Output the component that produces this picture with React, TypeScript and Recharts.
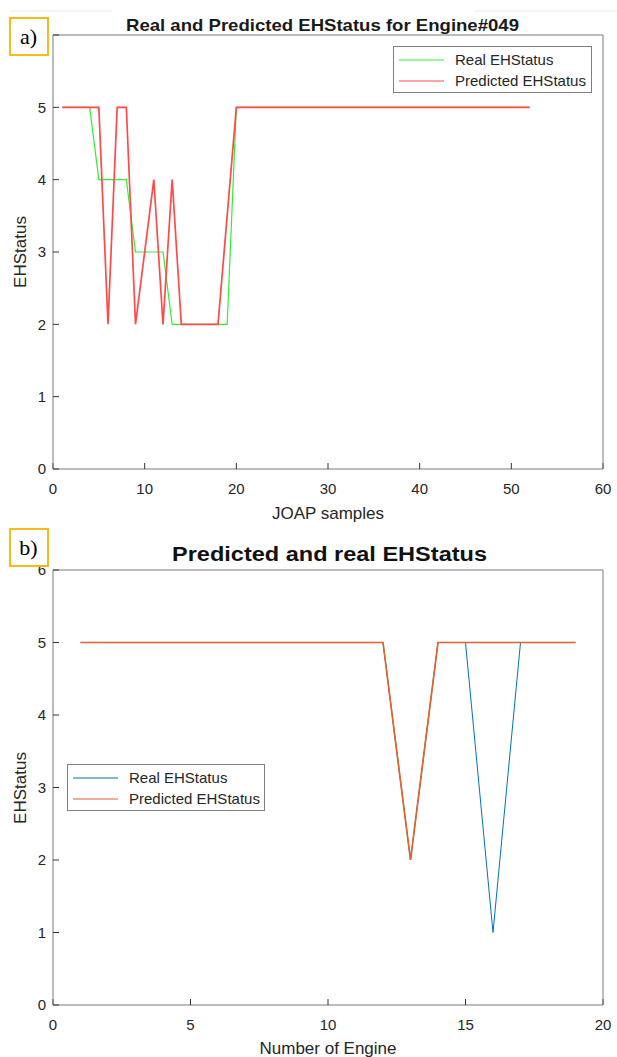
import React from 'react';
import { LineChart, Line, XAxis, YAxis, Legend } from 'recharts';

// ---- Chart a) data ----
const samplesA = [1, 2, 3, 4, 5, 6, 7, 8, 9, 10, 11, 12, 13, 14, 15, 16, 17, 18, 19, 20, 21, 22, 23, 24, 25, 26, 27, 28, 29, 30, 31, 32, 33, 34, 35, 36, 37, 38, 39, 40, 41, 42, 43, 44, 45, 46, 47, 48, 49, 50, 51, 52];
const realA = [5, 5, 5, 5, 4, 4, 4, 4, 3, 3, 3, 3, 2, 2, 2, 2, 2, 2, 2, 5, 5, 5, 5, 5, 5, 5, 5, 5, 5, 5, 5, 5, 5, 5, 5, 5, 5, 5, 5, 5, 5, 5, 5, 5, 5, 5, 5, 5, 5, 5, 5, 5];
const predA = [5, 5, 5, 5, 5, 2, 5, 5, 2, 3, 4, 2, 4, 2, 2, 2, 2, 2, 3.5, 5, 5, 5, 5, 5, 5, 5, 5, 5, 5, 5, 5, 5, 5, 5, 5, 5, 5, 5, 5, 5, 5, 5, 5, 5, 5, 5, 5, 5, 5, 5, 5, 5];
const xTicksA = [0, 10, 20, 30, 40, 50, 60];

// ---- Chart b) data ----
const enginesB = [1, 2, 3, 4, 5, 6, 7, 8, 9, 10, 11, 12, 13, 14, 15, 16, 17, 18, 19];
const realB = [5, 5, 5, 5, 5, 5, 5, 5, 5, 5, 5, 5, 2, 5, 5, 1, 5, 5, 5];
const predB = [5, 5, 5, 5, 5, 5, 5, 5, 5, 5, 5, 5, 2, 5, 5, 5, 5, 5, 5];
const xTicksB = [0, 5, 10, 15, 20];

const yTicks = [0, 1, 2, 3, 4, 5, 6];
const legendOrder = ['Real EHStatus', 'Predicted EHStatus'];

const dataA = samplesA.map((s, i) => ({ x: s, real: realA[i], pred: predA[i] }));
const dataB = enginesB.map((s, i) => ({ x: s, real: realB[i], pred: predB[i] }));

const FONT = '"Liberation Sans", Arial, Helvetica, sans-serif';
const AXIS_COLOR = '#7a7a7a';
const TICK_COLOR = '#333333';
const TEXT_COLOR = '#262626';

const tickStyle = { fill: TEXT_COLOR, fontSize: 15, fontFamily: FONT };

const LegendBox = (props: any) => {
  const payload = [...(props.payload || [])].sort(
    (a: any, b: any) => legendOrder.indexOf(a.value) - legendOrder.indexOf(b.value)
  );
  return (
    <div
      style={{
        border: '1px solid #808080',
        background: '#fff',
        width: '100%',
        height: 47,
        boxSizing: 'border-box',
        fontFamily: FONT,
        fontSize: 15,
        color: TEXT_COLOR,
        paddingTop: 3,
      }}
    >
      {payload.map((p: any) => (
        <div key={p.value} style={{ display: 'flex', alignItems: 'center', height: 20.5, lineHeight: '20px' }}>
          <svg width={51} height={6} style={{ display: 'block', flex: 'none' }}>
            <line x1={5} y1={3} x2={50} y2={3} stroke={p.color} strokeWidth={1.2} />
          </svg>
          <span style={{ marginLeft: 10, whiteSpace: 'nowrap' }}>{p.value}</span>
        </div>
      ))}
    </div>
  );
};

export default function App() {
  return (
    <div style={{ position: 'absolute', left: 0, top: 0, width: 617, height: 1057, background: '#fff', overflow: 'hidden' }}>
      {/* Chart a */}
      <div style={{ position: 'absolute', left: 0, top: 0 }}>
        <LineChart width={617} height={540} data={dataA} margin={{ top: 34, right: 13, bottom: 41, left: 23 }}>
          <XAxis
            dataKey="x"
            type="number"
            domain={[0, 60]}
            ticks={xTicksA}
            interval={0}
            height={30}
            tickSize={-6}
            tickMargin={20}
            axisLine={{ stroke: AXIS_COLOR }}
            tickLine={{ stroke: TICK_COLOR }}
            tick={tickStyle}
          />
          <XAxis
            xAxisId="top"
            orientation="top"
            type="number"
            domain={[0, 60]}
            ticks={xTicksA}
            interval={0}
            height={1}
            tickSize={-6}
            axisLine={{ stroke: AXIS_COLOR }}
            tickLine={{ stroke: TICK_COLOR }}
            tick={false}
          />
          <YAxis
            type="number"
            domain={[0, 6]}
            ticks={yTicks}
            interval={0}
            width={30}
            tickSize={-6}
            tickMargin={13}
            axisLine={{ stroke: AXIS_COLOR }}
            tickLine={{ stroke: TICK_COLOR }}
            tick={tickStyle}
          />
          <YAxis
            yAxisId="right"
            orientation="right"
            type="number"
            domain={[0, 6]}
            ticks={yTicks}
            interval={0}
            width={1}
            tickSize={-6}
            axisLine={{ stroke: AXIS_COLOR }}
            tickLine={{ stroke: TICK_COLOR }}
            tick={false}
          />
          <Line type="linear" dataKey="real" name="Real EHStatus" stroke="#33ee33" strokeWidth={1.2} dot={false} isAnimationActive={false} />
          <Line type="linear" dataKey="pred" name="Predicted EHStatus" stroke="#ff4a4a" strokeWidth={1.7} dot={false} isAnimationActive={false} />
          <Legend
            layout="horizontal"
            verticalAlign="middle"
            align="center"
            content={<LegendBox />}
            wrapperStyle={{ left: 393, top: 46, width: 199 }}
          />
        </LineChart>
      </div>

      {/* Chart b */}
      <div style={{ position: 'absolute', left: 0, top: 540 }}>
        <LineChart width={617} height={517} data={dataB} margin={{ top: 29, right: 13, bottom: 22, left: 23 }}>
          <XAxis
            dataKey="x"
            type="number"
            domain={[0, 20]}
            ticks={xTicksB}
            interval={0}
            height={30}
            tickSize={-6}
            tickMargin={20}
            axisLine={{ stroke: AXIS_COLOR }}
            tickLine={{ stroke: TICK_COLOR }}
            tick={tickStyle}
          />
          <XAxis
            xAxisId="top"
            orientation="top"
            type="number"
            domain={[0, 20]}
            ticks={xTicksB}
            interval={0}
            height={1}
            tickSize={-6}
            axisLine={{ stroke: AXIS_COLOR }}
            tickLine={{ stroke: TICK_COLOR }}
            tick={false}
          />
          <YAxis
            type="number"
            domain={[0, 6]}
            ticks={yTicks}
            interval={0}
            width={30}
            tickSize={-6}
            tickMargin={13}
            axisLine={{ stroke: AXIS_COLOR }}
            tickLine={{ stroke: TICK_COLOR }}
            tick={tickStyle}
          />
          <YAxis
            yAxisId="right"
            orientation="right"
            type="number"
            domain={[0, 6]}
            ticks={yTicks}
            interval={0}
            width={1}
            tickSize={-6}
            axisLine={{ stroke: AXIS_COLOR }}
            tickLine={{ stroke: TICK_COLOR }}
            tick={false}
          />
          <Line type="linear" dataKey="real" name="Real EHStatus" stroke="#0072BD" strokeWidth={1.0} dot={false} isAnimationActive={false} />
          <Line type="linear" dataKey="pred" name="Predicted EHStatus" stroke="#E0622C" strokeWidth={1.7} dot={false} isAnimationActive={false} />
          <Legend
            layout="horizontal"
            verticalAlign="middle"
            align="center"
            content={<LegendBox />}
            wrapperStyle={{ left: 67, top: 224, width: 198 }}
          />
        </LineChart>
      </div>

      {/* Annotations */}
      <svg width={617} height={1057} style={{ position: 'absolute', left: 0, top: 0, pointerEvents: 'none' }}>
        <line x1={10} y1={11} x2={112} y2={11} stroke="#ececec" strokeWidth={1} />
        <line x1={474} y1={11} x2={617} y2={11} stroke="#ececec" strokeWidth={1} />

        <text x={322.5} y={31} textAnchor="middle" fontFamily={FONT} fontWeight="bold" fontSize={17} fill="#1a1a1a" textLength={393} lengthAdjust="spacingAndGlyphs">
          Real and Predicted EHStatus for Engine#049
        </text>
        <text x={328} y={519} textAnchor="middle" fontFamily={FONT} fontSize={17} fill={TEXT_COLOR}>JOAP samples</text>
        <text x={26} y={252} transform="rotate(-90 26 252)" textAnchor="middle" fontFamily={FONT} fontSize={17} fill={TEXT_COLOR}>EHStatus</text>

        <text x={329.5} y={561} textAnchor="middle" fontFamily={FONT} fontWeight="bold" fontSize={20} fill="#111" textLength={315} lengthAdjust="spacingAndGlyphs">
          Predicted and real EHStatus
        </text>
        <text x={328} y={1054} textAnchor="middle" fontFamily={FONT} fontSize={17} fill={TEXT_COLOR}>Number of Engine</text>
        <text x={26} y={788} transform="rotate(-90 26 788)" textAnchor="middle" fontFamily={FONT} fontSize={17} fill={TEXT_COLOR}>EHStatus</text>

        <rect x={10} y={18} width={38} height={37} fill="#fff" stroke="#F5B400" strokeWidth={1.8} />
        <text x={28.5} y={44} textAnchor="middle" fontFamily='"Liberation Serif", "Times New Roman", serif' fontSize={22} fill="#000">a)</text>
        <rect x={10} y={529} width={38} height={37} fill="#fff" stroke="#F5B400" strokeWidth={1.8} />
        <text x={28.5} y={555} textAnchor="middle" fontFamily='"Liberation Serif", "Times New Roman", serif' fontSize={22} fill="#000">b)</text>
      </svg>
    </div>
  );
}
